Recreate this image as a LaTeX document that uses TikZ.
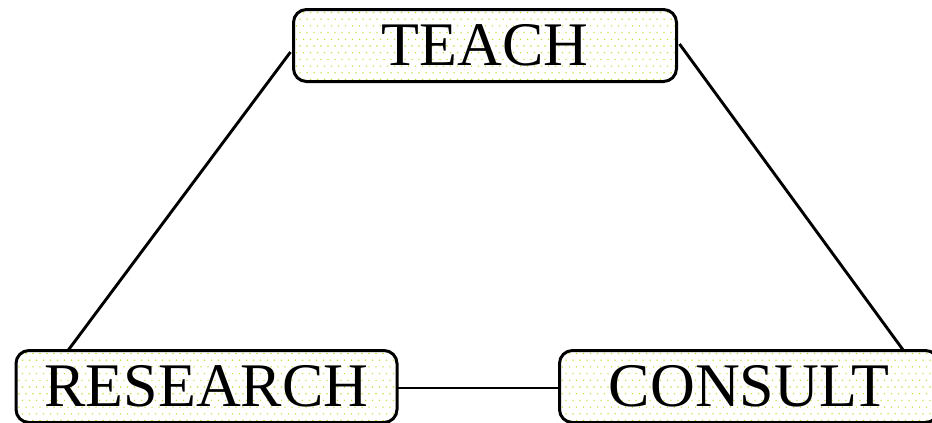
\documentclass[tikz,border=0pt]{standalone}
\usepackage{fontspec}
\setmainfont{Liberation Serif}
\usetikzlibrary{calc}
\definecolor{dotgreen}{RGB}{190,228,70}
\tikzset{
  dotfill/.style={path picture={
    \foreach \j in {0,...,11}{
      \foreach \i in {0,...,56}{
        \pgfmathsetmacro\dx{\i*7+3+mod(\j,2)*3.5}
        \fill[dotgreen] ($(path picture bounding box.north west)+(\dx,\j*6.7+3)$) circle (0.8pt);
      }
    }}},
  role/.style={draw=black, line width=3pt, rounded corners=13pt,
    inner sep=0pt, outer sep=0pt, minimum height=72pt, fill=white, dotfill,
    font=\fontsize{62}{70}\selectfont},
  link/.style={draw=black, line width=2.9pt}
}
\begin{document}
\begin{tikzpicture}[x=1pt,y=-1pt]
  \useasboundingbox (0,0) rectangle (932,423);
  % the three activities
  \node[role, minimum width=383pt] (teach) at (485,45.5) {TEACH};
  \node[role, minimum width=381pt] (research) at (206.5,386.5) {RESEARCH};
  \node[role, minimum width=379pt] (consult) at (749,386.5) {CONSULT};
  % links between them
  \draw[link] ($(teach.west)+(-3,6.5)$) -- ($(research.north west)+(52,0)$);
  \draw[link] ($(teach.east)+(3,-1.5)$) -- ($(consult.north west)+(344,0)$);
  \draw[link] ($(research.east)+(0,1.5)$) -- ($(consult.west)+(0,1.5)$);
\end{tikzpicture}
\end{document}
